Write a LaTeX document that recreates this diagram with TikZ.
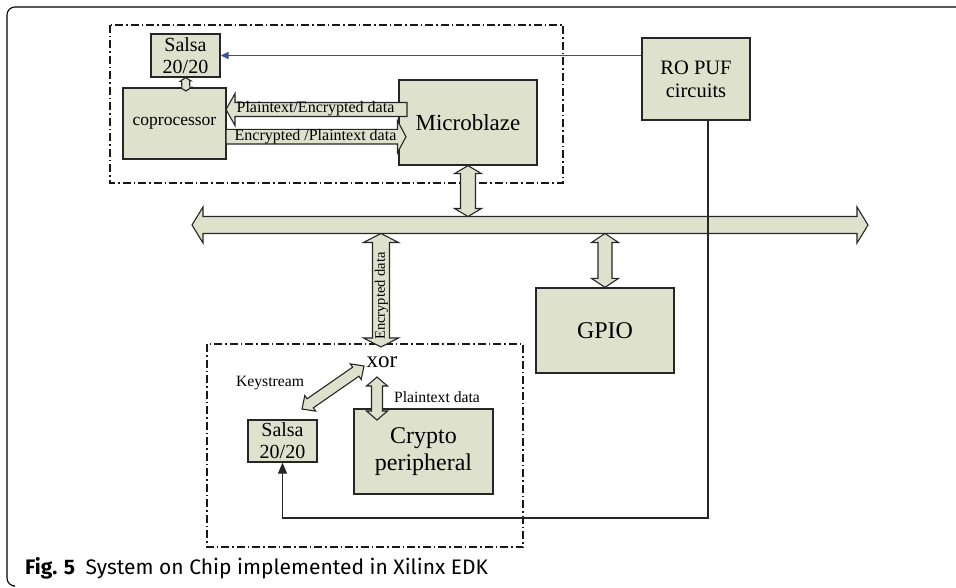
\documentclass[tikz,border=0pt]{standalone}
\usepackage{fontspec}
\setmainfont{Liberation Serif}
\newfontfamily\capfont{Fira Sans}
\usetikzlibrary{calc,arrows.meta}
\definecolor{boxfill}{RGB}{222,225,204}
\definecolor{puflink}{RGB}{47,85,151}
% double block arrow: #1 tip A, #2 tip B, #3 shaft half width, #4 head half width, #5 head length
\newcommand{\blockdbl}[5]{%
  \coordinate (hA) at ($(#1)!#5!(#2)$);
  \coordinate (hB) at ($(#2)!#5!(#1)$);
  \draw[blk] (#1) -- ($(hA)!#4!90:(#2)$) -- ($(hA)!#3!90:(#2)$) -- ($(hB)!#3!-90:(#1)$) -- ($(hB)!#4!-90:(#1)$) -- (#2)
    -- ($(hB)!#4!90:(#1)$) -- ($(hB)!#3!90:(#1)$) -- ($(hA)!#3!-90:(#2)$) -- ($(hA)!#4!-90:(#2)$) -- cycle;}
% single block arrow: #1 tail, #2 tip
\newcommand{\blocksgl}[5]{%
  \coordinate (hB) at ($(#2)!#5!(#1)$);
  \draw[blk] (#2) -- ($(hB)!#4!90:(#1)$) -- ($(hB)!#3!90:(#1)$) -- ($(#1)!#3!-90:(#2)$) -- ($(#1)!#3!90:(#2)$)
    -- ($(hB)!#3!-90:(#1)$) -- ($(hB)!#4!-90:(#1)$) -- cycle;}
\begin{document}
\begin{tikzpicture}[x=1pt,y=-1pt,
  blk/.style={draw=black!85, fill=boxfill, line width=1.1pt, line join=miter},
  box/.style={draw=black!85, fill=boxfill, line width=1.3pt, inner sep=0pt, align=center},
  region/.style={draw=black!90, line width=1.1pt, dash pattern=on 8pt off 3pt on 1.5pt off 3pt},
  lbl/.style={inner sep=0pt, align=center},
  wire/.style={draw=black!85, line width=1.2pt}]
\useasboundingbox (0,0) rectangle (956,588);
% outer frame
\draw[line width=1.1pt, rounded corners=8pt] (956,7) -- (7,7) -- (7,586) -- (13,586);
% regions
\draw[region] (110,25) rectangle (563,183);
\draw[region] (207,344) rectangle (523,547);
% boxes
\node[box, minimum width=69pt, minimum height=43pt, font=\fontsize{20}{23}\selectfont] (salsa1) at (185.5,55.5) {Salsa\\[-1pt]20/20};
\node[box, minimum width=103pt, minimum height=71pt, font=\fontsize{17.5}{20}\selectfont] (copro) at (174.5,123.5) {coprocessor};
\node[box, minimum width=138pt, minimum height=85pt, font=\fontsize{23}{26}\selectfont] (mb) at (468,122.5) {Microblaze};
\node[box, minimum width=108pt, minimum height=82pt, font=\fontsize{20.5}{23}\selectfont] (ropuf) at (696,79) {RO PUF\\circuits};
\node[box, minimum width=138pt, minimum height=85pt, font=\fontsize{24}{27}\selectfont] (gpio) at (605,330.5) {GPIO};
\node[box, minimum width=69pt, minimum height=42pt, font=\fontsize{20}{23}\selectfont] (salsa2) at (282.5,441) {Salsa\\[-1pt]20/20};
\node[box, minimum width=139pt, minimum height=85pt, font=\fontsize{24}{27}\selectfont] (crypto) at (423.5,451.5) {Crypto\\peripheral};
\node[lbl, font=\fontsize{23}{26}\selectfont] (xor) at (382,362) {xor};
% coordinates
\coordinate (busL) at (192,225);
\coordinate (busR) at (868,225);
\coordinate (bustop) at (0,216.5);
\coordinate (busbot) at (0,233.5);
\coordinate (enc2) at (381,347);
\coordinate (cp2) at (186,91);
\coordinate (pl1) at (377,377);
\coordinate (pl2) at (377,420);
\coordinate (ks1) at (364,366);
\coordinate (ks2) at (302,409);
\coordinate (pe1) at (407,109.5);
\coordinate (pe2) at (226,109.5);
\coordinate (ep1) at (226,136.7);
\coordinate (ep2) at (406,136.7);
\coordinate (wireX) at (708,518);
% bus and block arrows
\blockdbl{busL}{busR}{8.5pt}{18pt}{11pt}
\blockdbl{mb.south}{mb.south |- bustop}{7.5pt}{13.5pt}{8pt}
\blockdbl{enc2 |- busbot}{enc2}{8.5pt}{17.5pt}{9pt}
\blockdbl{gpio.north |- busbot}{gpio.north}{7pt}{13.5pt}{9pt}
\blockdbl{salsa1.south}{cp2}{4pt}{5.5pt}{3.5pt}
\blockdbl{pl1}{pl2}{5.5pt}{10.5pt}{9pt}
\blockdbl{ks1}{ks2}{5.5pt}{9.5pt}{10pt}
\blocksgl{pe1}{pe2}{7pt}{16pt}{9pt}
\blocksgl{ep1}{ep2}{7.3pt}{16pt}{8.5pt}
% PUF links
\draw[puflink, line width=1.2pt, -{Triangle[length=8pt,width=7pt]}] (ropuf.west |- salsa1.east) -- (salsa1.east);
\draw[wire, -{Triangle[length=11pt,width=9pt]}] (wireX |- ropuf.south) -- (wireX) -- (wireX -| salsa2.south) -- (salsa2.south);
% labels
\node[lbl, font=\fontsize{16}{18}\selectfont] (lpe) at (315.5,108.5) {Plaintext/Encrypted data};
\node[lbl, font=\fontsize{16}{18}\selectfont] (lep) at (315.5,136.5) {Encrypted /Plaintext data};
\node[lbl, font=\fontsize{14.5}{16}\selectfont, rotate=90] (lenc) at (381.5,296) {Encrypted data};
\node[lbl, font=\fontsize{15.7}{18}\selectfont] (lks) at (270,383) {Keystream};
\node[lbl, font=\fontsize{15.7}{18}\selectfont] (lpl) at (437,397) {Plaintext data};
% caption
\node[lbl, anchor=west, font=\capfont\fontsize{21}{24}\selectfont] (cap) at (25,568) {\textbf{Fig. 5}\hspace{0.5em}System on Chip implemented in Xilinx EDK};
\end{tikzpicture}
\end{document}
